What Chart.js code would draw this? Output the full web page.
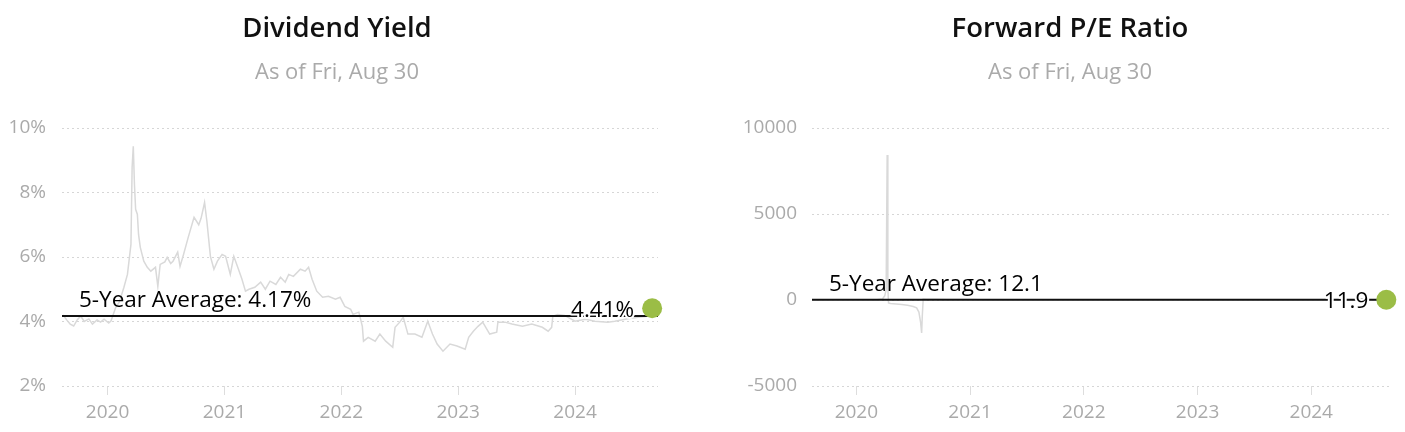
<!DOCTYPE html>
<html>
<head>
<meta charset="utf-8">
<script src="https://cdn.jsdelivr.net/npm/chart.js@4.4.1/dist/chart.umd.min.js"></script>
<style>
  body { margin: 0; background: #fff; font-family: "Open Sans", sans-serif; }
  #wrap { position: relative; width: 1405px; height: 432px; overflow: hidden; }
  .box { position: absolute; top: 0; height: 432px; }
  .title { position: absolute; top: 8px; text-align: center; font-size: 27.5px; font-weight: 600; color: #111; z-index: 2; }
  .sub { position: absolute; top: 55px; text-align: center; font-size: 22px; color: #aaa; z-index: 2; }
</style>
</head>
<body>
<div id="wrap">
  <div class="title" style="left:0;width:674px">Dividend Yield</div>
  <div class="sub" style="left:0;width:674px">As of Fri, Aug 30</div>
  <div class="title" style="left:735px;width:670px">Forward P/E Ratio</div>
  <div class="sub" style="left:735px;width:670px">As of Fri, Aug 30</div>
  <div class="box" style="left:0;width:700px"><canvas id="divChart" width="700" height="432"></canvas></div>
  <div class="box" style="left:700px;width:705px"><canvas id="peChart" width="705" height="432"></canvas></div>
</div>
<script>
// x axis range (fractional years) and year ticks
const xMin = 2019.61;
const xMax = 2024.71;
const yearTicks = [2020, 2021, 2022, 2023, 2024];

// dividend yield (%)
const divYears = [2019.62, 2019.65, 2019.68, 2019.71, 2019.74, 2019.77, 2019.80, 2019.84, 2019.87, 2019.91,
  2019.94, 2019.97, 2020.01, 2020.03, 2020.07, 2020.10, 2020.14, 2020.17, 2020.20, 2020.21,
  2020.22, 2020.23, 2020.24, 2020.255, 2020.265, 2020.28, 2020.31, 2020.34, 2020.37, 2020.41,
  2020.43, 2020.45, 2020.49, 2020.51, 2020.54, 2020.56, 2020.60, 2020.62, 2020.65, 2020.69,
  2020.74, 2020.78, 2020.80, 2020.83, 2020.85, 2020.88, 2020.91, 2020.94, 2020.98, 2021.01,
  2021.05, 2021.08, 2021.12, 2021.15, 2021.18, 2021.21, 2021.26, 2021.31, 2021.35, 2021.39,
  2021.44, 2021.48, 2021.52, 2021.55, 2021.59, 2021.65, 2021.69, 2021.72, 2021.75, 2021.79,
  2021.84, 2021.89, 2021.95, 2021.99, 2022.03, 2022.08, 2022.10, 2022.15, 2022.18, 2022.19,
  2022.23, 2022.29, 2022.33, 2022.38, 2022.44, 2022.46, 2022.50, 2022.53, 2022.57, 2022.63,
  2022.69, 2022.74, 2022.78, 2022.82, 2022.87, 2022.93, 2022.99, 2023.06, 2023.09, 2023.13,
  2023.17, 2023.21, 2023.27, 2023.33, 2023.34, 2023.40, 2023.46, 2023.55, 2023.63, 2023.72,
  2023.77, 2023.80, 2023.81, 2023.85, 2023.91, 2024.00, 2024.09, 2024.17, 2024.28, 2024.34,
  2024.43, 2024.54, 2024.62, 2024.66];
const divValues = [4.20, 4.05, 3.92, 3.86, 4.05, 4.17, 4.00, 4.08, 3.92, 4.05,
  3.98, 4.07, 3.95, 4.02, 4.44, 4.60, 5.06, 5.46, 6.39, 8.78,
  9.43, 8.25, 7.48, 7.32, 6.70, 6.30, 5.87, 5.68, 5.56, 5.68,
  5.09, 5.77, 5.85, 5.99, 5.80, 5.87, 6.15, 5.71, 6.08, 6.61,
  7.23, 7.00, 7.20, 7.69, 7.10, 6.02, 5.62, 5.87, 6.08, 6.02,
  5.46, 6.02, 5.62, 5.31, 4.94, 5.00, 5.06, 5.22, 5.00, 5.25,
  5.15, 5.37, 5.22, 5.46, 5.40, 5.62, 5.56, 5.68, 5.31, 4.94,
  4.75, 4.78, 4.69, 4.75, 4.47, 4.38, 4.22, 4.29, 3.85, 3.39,
  3.51, 3.39, 3.61, 3.39, 3.20, 3.82, 3.98, 4.13, 3.61, 3.61,
  3.51, 4.01, 3.61, 3.30, 3.08, 3.30, 3.24, 3.14, 3.51, 3.70,
  3.85, 3.98, 3.61, 3.67, 3.98, 3.98, 3.92, 3.85, 3.92, 3.82,
  3.70, 3.82, 4.16, 4.22, 4.19, 4.01, 4.07, 4.01, 3.98, 4.01,
  4.07, 4.13, 4.16, 4.41];
const divAverage = 4.17;
const divTicks = [2, 4, 6, 8, 10];

// forward P/E
const peYears = [2019.62, 2019.70, 2019.80, 2019.90, 2020.00, 2020.10, 2020.18, 2020.23, 2020.25, 2020.262,
  2020.271, 2020.277, 2020.283, 2020.30, 2020.35, 2020.40, 2020.45, 2020.50, 2020.53, 2020.55,
  2020.565, 2020.574, 2020.58, 2020.588, 2020.62, 2020.70, 2020.80, 2020.90, 2021.00, 2021.10,
  2021.25, 2021.40, 2021.60, 2021.80, 2022.00, 2022.20, 2022.40, 2022.60, 2022.80, 2023.00,
  2023.20, 2023.40, 2023.60, 2023.80, 2024.00, 2024.20, 2024.40, 2024.66];
const peValues = [12.4, 12.9, 12.1, 13.0, 13.4, 11.5, 18, 60, 250, 600,
  8430, 700, -170, -200, -230, -260, -310, -380, -460, -700,
  -1300, -1920, -900, 60, 48, 38, 30, 24, 22, 19,
  15, 13.5, 12.8, 13.2, 12, 10.5, 9.8, 10.2, 9.5, 10.0,
  10.5, 10.2, 10.4, 11.0, 11.5, 11.6, 11.8, 11.9];
const peAverage = 12.1;
const peTicks = [-5000, 0, 5000, 10000];

Chart.defaults.font.family = '"Open Sans", sans-serif';

const labelPlugin = {
  id: "avgLabels",
  afterDatasetsDraw(chart, args, opts) {
    const ctx = chart.ctx;
    const area = chart.chartArea;
    const y = chart.scales.y.getPixelForValue(opts.avg);
    ctx.save();
    ctx.font = '22.5px "Open Sans"';
    ctx.fillStyle = "#000";
    ctx.textBaseline = "middle";
    ctx.textAlign = "left";
    ctx.fillText(opts.avgText, area.left + 17, y - 15);

    // latest value, white halo so the average line breaks around the glyphs
    const dot = chart.getDatasetMeta(0).data[0];
    ctx.textAlign = "right";
    ctx.lineJoin = "round";
    ctx.lineWidth = 4;
    ctx.strokeStyle = "#fff";
    ctx.strokeText(opts.lastText, dot.x - 18, dot.y + 2);
    ctx.fillText(opts.lastText, dot.x - 18, dot.y + 2);
    ctx.restore();
  },
};

function makeChart(id, years, values, avg, avgText, lastText, ticks, fmt, axisWidth, tickPad, padRight) {
  const series = years.map((x, i) => ({ x: x, y: values[i] }));
  const last = series[series.length - 1];

  const config = {
    type: "line",
    data: {
      datasets: [
        {
          data: [last],
          showLine: false,
          pointRadius: 10,
          pointHoverRadius: 10,
          pointBackgroundColor: "#9bbd46",
          pointBorderWidth: 0,
          clip: false,
        },
        {
          data: [{ x: xMin, y: avg }, { x: xMax, y: avg }],
          borderColor: "#111111",
          borderWidth: 2,
          pointRadius: 0,
        },
        {
          data: series,
          borderColor: "#d9d9d9",
          borderWidth: 1.5,
          pointRadius: 0,
          tension: 0,
        },
      ],
    },
    options: {
      responsive: false,
      animation: false,
      devicePixelRatio: 1,
      layout: { padding: { top: 128, right: padRight, bottom: 0, left: 0 } },
      plugins: {
        legend: { display: false },
        tooltip: { enabled: false },
        avgLabels: { avg: avg, avgText: avgText, lastText: lastText },
      },
      scales: {
        x: {
          type: "linear",
          min: xMin,
          max: xMax,
          afterBuildTicks: (scale) => {
            scale.ticks = yearTicks.map((v) => ({ value: v }));
          },
          afterFit: (scale) => {
            scale.height = 46;
          },
          grid: { drawOnChartArea: false, drawTicks: true, tickLength: 9, color: "#dddddd" },
          border: { display: false },
          ticks: { color: "#aaaaaa", font: { size: 19 }, padding: 6, maxRotation: 0, callback: (v) => String(v) },
        },
        y: {
          min: ticks[0],
          max: ticks[ticks.length - 1],
          afterBuildTicks: (scale) => {
            scale.ticks = ticks.map((v) => ({ value: v }));
          },
          afterFit: (scale) => {
            scale.width = axisWidth;
          },
          grid: { drawTicks: false, color: "#d6d6d6" },
          border: { display: false, dash: [2, 3] },
          ticks: { color: "#aaaaaa", font: { size: 19 }, padding: tickPad, callback: fmt },
        },
      },
    },
    plugins: [labelPlugin],
  };

  return new Chart(document.getElementById(id), config);
}

makeChart("divChart", divYears, divValues, divAverage, "5-Year Average: 4.17%", "4.41%",
  divTicks, (v) => v + "%", 62, 16, 42);
makeChart("peChart", peYears, peValues, peAverage, "5-Year Average: 12.1", "11.9",
  peTicks, (v) => String(v), 112, 15, 13);
</script>
</body>
</html>
